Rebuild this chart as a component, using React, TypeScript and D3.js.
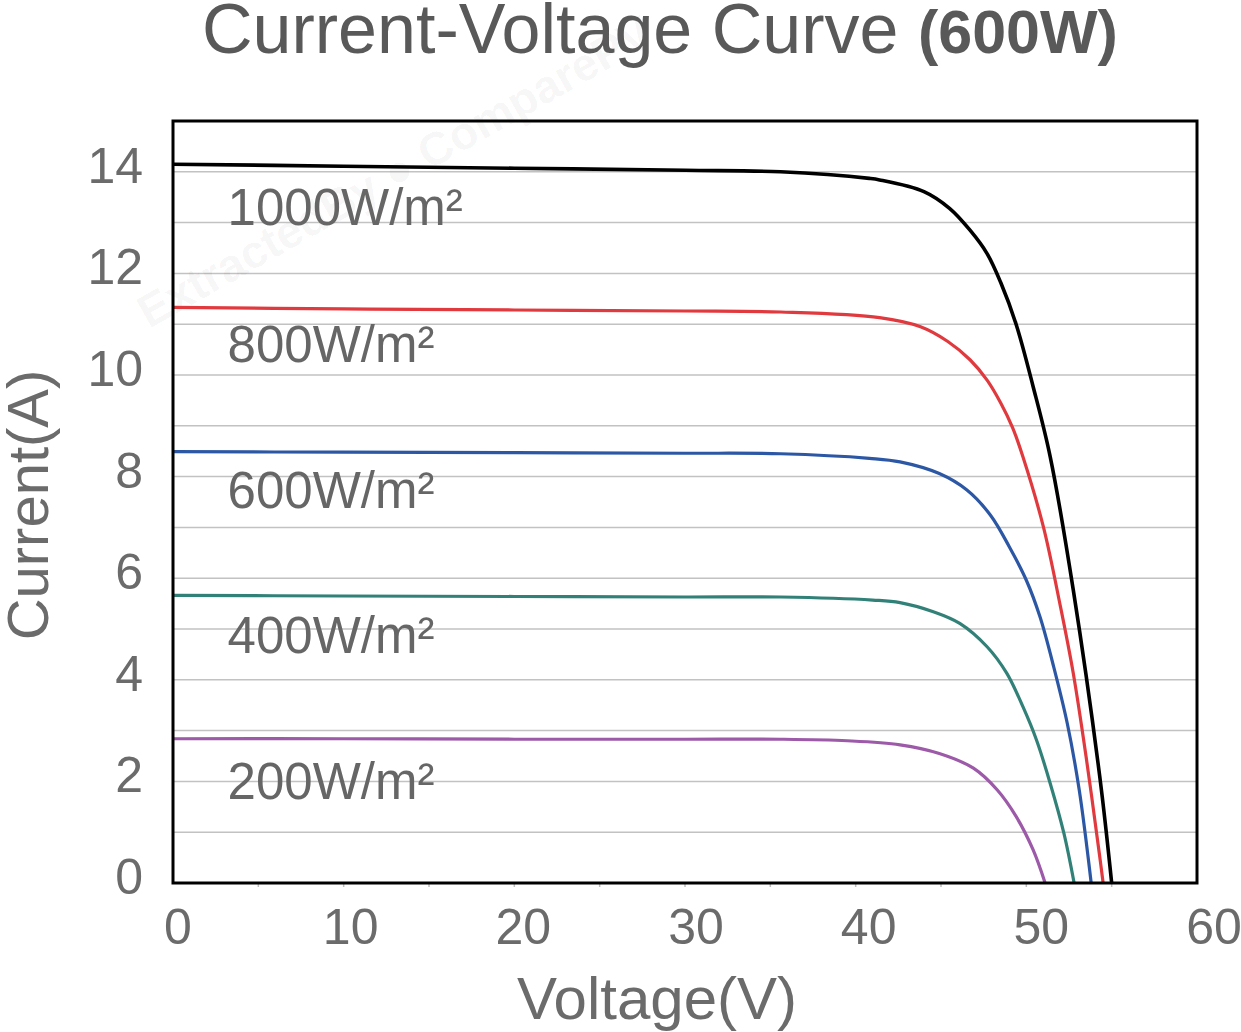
import { useEffect, useRef } from "react";
import * as d3 from "d3";

// Irradiance levels and their I-V points
const seriesNames = ["1000W/m²", "800W/m²", "600W/m²", "400W/m²", "200W/m²"];
const seriesColors = ["#000000", "#e0393e", "#2c57a4", "#318178", "#9c5aa8"];

const v1000 = [0, 10, 20, 30, 35.6, 40.8, 41.4, 44.0, 45.5, 46.7, 47.7, 48.5, 49.4, 50.4, 51.4, 52.75, 54.3, 55.0];
const i1000 = [14.15, 14.11, 14.07, 14.03, 14.0, 13.87, 13.84, 13.61, 13.28, 12.85, 12.39, 11.82, 11.0, 9.77, 8.39, 5.77, 2.1, 0];

const v800 = [0, 10, 20, 30, 35.6, 41.4, 43.8, 45.4, 46.7, 47.7, 48.5, 49.2, 49.8, 51.0, 52.0, 52.75, 53.5, 54.3, 54.5];
const i800 = [11.33, 11.3, 11.28, 11.26, 11.24, 11.13, 10.95, 10.66, 10.3, 9.9, 9.45, 8.96, 8.39, 7.01, 5.44, 4.13, 2.49, 0.52, 0];

const v600 = [0, 10, 20, 30, 35.6, 40.8, 42.6, 44.9, 46.5, 47.9, 49.0, 50.0, 50.8, 51.6, 52.4, 53.1, 53.8];
const i600 = [8.49, 8.48, 8.47, 8.46, 8.45, 8.36, 8.29, 8.06, 7.74, 7.24, 6.62, 5.96, 5.24, 4.26, 3.14, 1.83, 0];

const v400 = [0, 10, 20, 30, 35.6, 41.0, 42.6, 44.55, 46.1, 47.7, 48.85, 49.8, 50.6, 51.4, 52.2, 52.8];
const i400 = [5.66, 5.65, 5.64, 5.63, 5.63, 5.57, 5.52, 5.34, 5.11, 4.65, 4.13, 3.47, 2.81, 1.96, 0.98, 0];

const v200 = [0, 10, 20, 30, 35.6, 39.5, 42.6, 44.9, 46.9, 48.3, 49.4, 50.4, 51.1];
const i200 = [2.84, 2.84, 2.83, 2.83, 2.83, 2.8, 2.72, 2.55, 2.26, 1.83, 1.31, 0.65, 0];

// where each irradiance label sits, in data units
const labelVoltage = 3.2;
const labelCurrent = [12.95, 10.25, 7.38, 4.53, 1.65];

const xTicks = [0, 10, 20, 30, 40, 50, 60];
const xMinorTicks = [5, 10, 15, 20, 25, 30, 35, 40, 45, 50, 55];
const yTicks = [0, 2, 4, 6, 8, 10, 12, 14];
const gridValues = [1, 2, 3, 4, 5, 6, 7, 8, 9, 10, 11, 12, 13, 14];

export default function App() {
    const svgRef = useRef<SVGSVGElement | null>(null);

    useEffect(() => {
        if (!svgRef.current) return;
        d3.select(svgRef.current).selectAll("*").remove();

        const width = 1241;
        const height = 1032;
        const margin = { top: 121, right: 44, bottom: 149, left: 173 };
        const innerWidth = width - margin.left - margin.right;
        const innerHeight = height - margin.top - margin.bottom;
        const font = "'Liberation Sans', Arial, sans-serif";

        const svg = d3.select(svgRef.current).attr("width", width).attr("height", height);

        svg.append("rect").attr("width", width).attr("height", height).attr("fill", "#ffffff");

        const g = svg.append("g").attr("transform", `translate(${margin.left},${margin.top})`);

        const x = d3.scaleLinear().domain([0, 60]).range([0, innerWidth]);
        const y = d3.scaleLinear().domain([0, 15]).range([innerHeight, 0]);
        // tick labels in the original drift a little to the right of their ticks
        const xLabel = d3.scaleLinear().domain([0, 60]).range([5, innerWidth + 17]);

        // gridlines
        g.selectAll(".grid")
            .data(gridValues)
            .enter()
            .append("line")
            .attr("x1", 0)
            .attr("x2", innerWidth)
            .attr("y1", (d) => y(d))
            .attr("y2", (d) => y(d))
            .attr("stroke", "#c2c2c2")
            .attr("stroke-width", 1.5);

        // small ticks under the x axis
        g.selectAll(".xminor")
            .data(xMinorTicks)
            .enter()
            .append("line")
            .attr("x1", (d) => x(d))
            .attr("x2", (d) => x(d))
            .attr("y1", innerHeight)
            .attr("y2", innerHeight + 4)
            .attr("stroke", "#bdbdbd")
            .attr("stroke-width", 1.5);

        // watermark
        g.append("text")
            .attr("transform", `translate(${-24},${208}) rotate(-29.5)`)
            .attr("font-family", font)
            .attr("font-weight", "bold")
            .attr("font-size", 46)
            .attr("fill", "#000000")
            .attr("fill-opacity", 0.045)
            .text("ExtractedBy ● ComparePV");

        // curves
        const allV = [v1000, v800, v600, v400, v200];
        const allI = [i1000, i800, i600, i400, i200];
        const line = d3
            .line<[number, number]>()
            .x((d) => x(d[0]))
            .y((d) => y(d[1]))
            .curve(d3.curveCatmullRom.alpha(0.5));

        seriesNames.forEach((name, k) => {
            const pts = allV[k].map((v, j) => [v, allI[k][j]] as [number, number]);
            g.append("path")
                .datum(pts)
                .attr("fill", "none")
                .attr("stroke", seriesColors[k])
                .attr("stroke-width", k === 0 ? 3.6 : 3.2)
                .attr("stroke-linejoin", "round")
                .attr("d", line);
        });

        // irradiance labels
        g.selectAll(".serieslabel")
            .data(seriesNames)
            .enter()
            .append("text")
            .attr("x", x(labelVoltage))
            .attr("y", (d, k) => y(labelCurrent[k]))
            .attr("font-family", font)
            .attr("font-size", 51)
            .attr("fill", "#666666")
            .text((d) => d);

        // plot frame
        g.append("rect")
            .attr("width", innerWidth)
            .attr("height", innerHeight)
            .attr("fill", "none")
            .attr("stroke", "#000000")
            .attr("stroke-width", 3);

        // y tick labels
        g.selectAll(".ylabel")
            .data(yTicks)
            .enter()
            .append("text")
            .attr("x", -30)
            .attr("y", (d) => y(d) + 11)
            .attr("text-anchor", "end")
            .attr("font-family", font)
            .attr("font-size", 50)
            .attr("fill", "#6b6b6b")
            .text((d) => d);

        // x tick labels
        g.selectAll(".xlabel")
            .data(xTicks)
            .enter()
            .append("text")
            .attr("x", (d) => xLabel(d))
            .attr("y", innerHeight + 61)
            .attr("text-anchor", "middle")
            .attr("font-family", font)
            .attr("font-size", 50)
            .attr("fill", "#6b6b6b")
            .text((d) => d);

        // axis titles
        svg.append("text")
            .attr("x", 657)
            .attr("y", 1019)
            .attr("text-anchor", "middle")
            .attr("font-family", font)
            .attr("font-size", 60)
            .attr("fill", "#6b6b6b")
            .text("Voltage(V)");

        svg.append("text")
            .attr("transform", `translate(48,505) rotate(-90)`)
            .attr("text-anchor", "middle")
            .attr("font-family", font)
            .attr("font-size", 58)
            .attr("fill", "#6b6b6b")
            .text("Current(A)");

        // chart title
        const title = svg
            .append("text")
            .attr("x", 202)
            .attr("y", 53)
            .attr("font-family", font)
            .attr("fill", "#595959");
        title.append("tspan").attr("font-size", 70).text("Current-Voltage Curve ");
        title.append("tspan").attr("font-size", 61).attr("font-weight", "bold").text("(600W)");
    }, []);

    return <svg ref={svgRef} style={{ position: "absolute", left: 0, top: 0, display: "block" }} />;
}
